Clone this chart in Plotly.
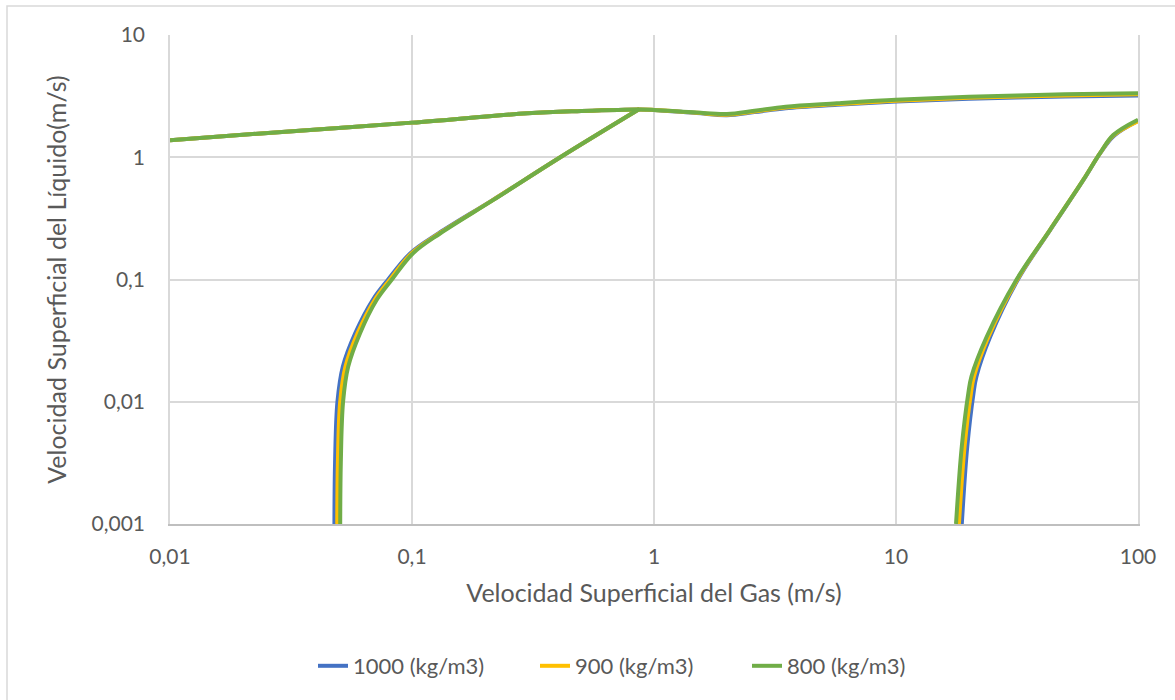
import plotly.graph_objects as go

# Upper boundary (shared gas velocities), liquid velocity per liquid density
GAS_UPPER = [0.01, 0.03, 0.1, 0.3, 0.5, 0.87, 1.0, 1.5, 2.0, 2.6, 3.5, 5.7, 10, 20, 50, 100]
LIQ_UPPER_1000 = [1.38, 1.62, 1.92, 2.29, 2.39, 2.46, 2.44, 2.30, 2.21, 2.34, 2.52, 2.69, 2.86, 3.01, 3.14, 3.20]
LIQ_UPPER_900 = [1.38, 1.62, 1.92, 2.29, 2.39, 2.46, 2.44, 2.31, 2.23, 2.37, 2.55, 2.72, 2.90, 3.06, 3.20, 3.27]
LIQ_UPPER_800 = [1.38, 1.62, 1.92, 2.29, 2.39, 2.46, 2.44, 2.32, 2.26, 2.40, 2.59, 2.76, 2.95, 3.12, 3.27, 3.34]

# Left boundary (shared liquid velocities)
LIQ_LEFT = [0.001, 0.0032, 0.01, 0.0194, 0.0364, 0.068, 0.1, 0.164, 0.239, 0.448, 1.0, 2.48]
GAS_LEFT_1000 = [0.0478, 0.0481, 0.0492, 0.0518, 0.0583, 0.0688, 0.0797, 0.0985, 0.129, 0.216, 0.41, 0.87]
GAS_LEFT_900 = [0.0491, 0.0494, 0.0505, 0.0531, 0.0596, 0.0701, 0.0811, 0.0997, 0.130, 0.2165, 0.41, 0.87]
GAS_LEFT_800 = [0.0505, 0.0508, 0.0519, 0.0545, 0.0610, 0.0714, 0.0826, 0.101, 0.131, 0.217, 0.41, 0.87]

# Right boundary
GAS_RIGHT_1000 = [18.7, 19.7, 20.9, 21.5, 24.5, 31.9, 43.4, 59.5, 69.8, 79.6, 100]
GAS_RIGHT_900 = [18.2, 19.2, 20.4, 21.0, 24.1, 31.7, 43.3, 59.4, 69.7, 79.3, 100]
GAS_RIGHT_800 = [17.7, 18.7, 19.9, 20.5, 23.7, 31.5, 43.3, 59.4, 69.7, 79.0, 100]
LIQ_RIGHT_1000 = [0.001, 0.0043, 0.0117, 0.0161, 0.034, 0.1, 0.255, 0.652, 1.08, 1.50, 1.99]
LIQ_RIGHT_900 = [0.001, 0.0043, 0.0117, 0.0161, 0.034, 0.1, 0.255, 0.652, 1.08, 1.51, 1.97]
LIQ_RIGHT_800 = [0.001, 0.0043, 0.0117, 0.0161, 0.034, 0.1, 0.255, 0.652, 1.08, 1.52, 2.03]

SERIES_NAMES = ["1000 (kg/m3)", "900 (kg/m3)", "800 (kg/m3)"]
SERIES_COLORS = ["#4472C4", "#FFC000", "#70AD47"]
LEGEND_WIDTHS = [177, 167, 120]

TICK_VALS = [0.01, 0.1, 1, 10, 100]
X_TICK_TEXT = ["0,01", "0,1", "1", "10", "100"]
Y_TICK_VALS = [0.001, 0.01, 0.1, 1, 10]
Y_TICK_TEXT = ["0,001", "0,01", "0,1", "1", "10"]

series = [
    (GAS_UPPER, LIQ_UPPER_1000, GAS_LEFT_1000, LIQ_LEFT, GAS_RIGHT_1000, LIQ_RIGHT_1000),
    (GAS_UPPER, LIQ_UPPER_900, GAS_LEFT_900, LIQ_LEFT, GAS_RIGHT_900, LIQ_RIGHT_900),
    (GAS_UPPER, LIQ_UPPER_800, GAS_LEFT_800, LIQ_LEFT, GAS_RIGHT_800, LIQ_RIGHT_800),
]

FONT = "Lato, 'Open Sans', sans-serif"
TEXT_COLOR = "#595959"

fig = go.Figure()
for name, color, lw, (gu, lu, gl, ll, gr, lr) in zip(SERIES_NAMES, SERIES_COLORS, LEGEND_WIDTHS, series):
    # three boundary branches in one trace, separated by gaps
    xs = list(gu) + [None] + list(gl) + [None] + list(gr)
    ys = list(lu) + [None] + list(ll) + [None] + list(lr)
    fig.add_trace(go.Scatter(
        x=xs, y=ys, mode="lines", name=name,
        line=dict(color=color, width=4, shape="spline", smoothing=1.0),
        connectgaps=False, legendwidth=lw,
    ))

W, H = 1175, 700
L, R, T, B = 170, 37, 35, 176
pw, ph = W - L - R, H - T - B


def px_to_paper_x(px):
    return (px - L) / pw


def px_to_paper_y(py):
    return (H - B - py) / ph


fig.update_layout(
    width=W, height=H,
    margin=dict(l=L, r=R, t=T, b=B),
    paper_bgcolor="white", plot_bgcolor="white",
    font=dict(family=FONT, color=TEXT_COLOR, size=21),
    showlegend=True,
    legend=dict(
        orientation="h",
        x=px_to_paper_x(313), xanchor="left",
        y=px_to_paper_y(666), yanchor="middle",
        font=dict(family=FONT, size=22, color=TEXT_COLOR),
        itemwidth=30,
        bgcolor="rgba(0,0,0,0)",
    ),
    shapes=[
        # chart frame
        dict(type="rect", xref="paper", yref="paper",
             x0=px_to_paper_x(7), x1=px_to_paper_x(1190),
             y0=px_to_paper_y(715), y1=px_to_paper_y(6),
             line=dict(color="#D9D9D9", width=1.5), layer="below"),
    ],
)

fig.update_xaxes(
    type="log", range=[-2, 2],
    tickvals=TICK_VALS, ticktext=X_TICK_TEXT,
    showgrid=True, gridcolor="#D9D9D9", gridwidth=1.5,
    showline=True, linecolor="#BFBFBF", linewidth=1.5,
    ticks="", ticklabelstandoff=13,
    tickfont=dict(family=FONT, size=21, color=TEXT_COLOR),
    title=dict(text="Velocidad Superficial del Gas (m/s)",
               font=dict(family=FONT, size=25, color=TEXT_COLOR), standoff=18),
    zeroline=False,
)
fig.update_yaxes(
    type="log", range=[-3, 1],
    tickvals=Y_TICK_VALS, ticktext=Y_TICK_TEXT,
    showgrid=True, gridcolor="#D9D9D9", gridwidth=1.5,
    showline=True, linecolor="#D9D9D9", linewidth=1.5, mirror=True,
    ticks="", ticklabelstandoff=19,
    tickfont=dict(family=FONT, size=21, color=TEXT_COLOR),
    title=dict(text="Velocidad Superficial del Líquido(m/s)",
               font=dict(family=FONT, size=25, color=TEXT_COLOR), standoff=18),
    zeroline=False,
)

fig.write_html("out.html")
